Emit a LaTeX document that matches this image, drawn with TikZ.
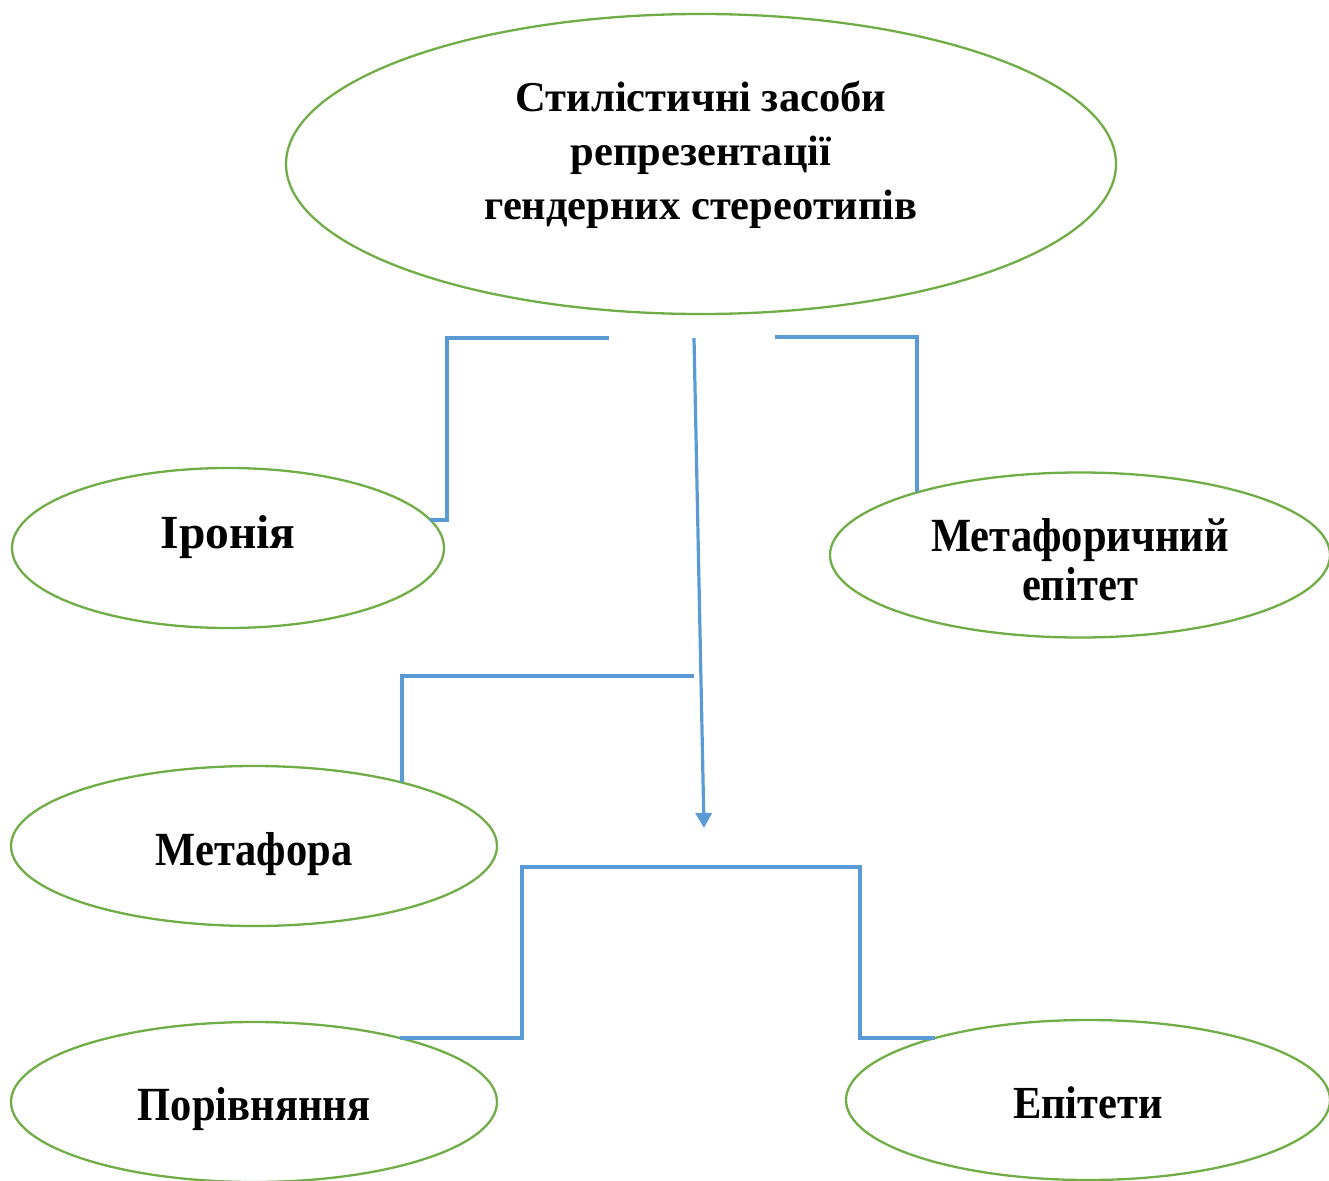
\documentclass[tikz,border=0pt]{standalone}
\usepackage{fontspec}
\usepackage{graphicx}
\setmainfont{Liberation Serif}
\usetikzlibrary{shapes.geometric,arrows.meta}
\definecolor{egreen}{HTML}{70AD47}
\definecolor{lblue}{HTML}{5B9BD5}
\newcommand{\placetxt}[2]{\raisebox{#1}[0pt][0pt]{#2}}
\begin{document}
\begin{tikzpicture}[x=1pt,y=-1pt,
  oval/.style={ellipse,draw=egreen,line width=2.3pt,inner sep=0pt,align=center,font=\bfseries\fontsize{42.5}{43}\selectfont},
  link/.style={draw=lblue,line width=3.2pt}]
\useasboundingbox (0,0) rectangle (1329,1180);
\node[oval,minimum width=830pt,minimum height=300pt,font=\bfseries\fontsize{42.5}{54}\selectfont] (top) at (701,164)
  {\placetxt{-55pt}{\begin{tabular}[b]{@{}c@{}}Стилістичні засоби\\ репрезентації\\ гендерних стереотипів\end{tabular}}};
\node[oval,minimum width=432pt,minimum height=160pt,font=\bfseries\fontsize{47.5}{50}\selectfont] (iron) at (228,548)
  {\placetxt{0pt}{Іронія}};
\node[oval,minimum width=500pt,minimum height=165pt] (mepit) at (1080,555)
  {\placetxt{-45pt}{\scalebox{1}[1.12]{\begin{tabular}[b]{@{}c@{}}Метафоричний\\ епітет\end{tabular}}}};
\node[oval,minimum width=486pt,minimum height=160pt] (metaf) at (254,846)
  {\placetxt{-19pt}{\scalebox{1}[1.12]{Метафора}}};
\node[oval,minimum width=486pt,minimum height=160pt] (por) at (254,1102)
  {\placetxt{-18pt}{\scalebox{1}[1.12]{Порівняння}}};
\node[oval,minimum width=484pt,minimum height=160pt] (epit) at (1088,1100)
  {\placetxt{-18pt}{\scalebox{1}[1.08]{Епітети}}};
\coordinate (a1) at (609,338);
\coordinate (a2) at (430,520);
\coordinate (b1) at (775,337);
\coordinate (b2) at (917,492);
\coordinate (c1) at (694,338);
\coordinate (c2) at (704,828);
\coordinate (d1) at (694,676);
\coordinate (d2) at (402,782);
\coordinate (e1) at (400,1038);
\coordinate (e2) at (935,1038);
\draw[link] (a1) -- (447,338) -- (447,520) -- (a2);
\draw[link] (b1) -- (917,337) -- (b2);
\draw[link,-{Triangle[length=15pt,width=16pt]}] (c1) -- (c2);
\draw[link] (d1) -- (402,676) -- (d2);
\draw[link] (e1) -- (522,1038) -- (522,867) -- (860,867) -- (860,1038) -- (e2);
\end{tikzpicture}
\end{document}
